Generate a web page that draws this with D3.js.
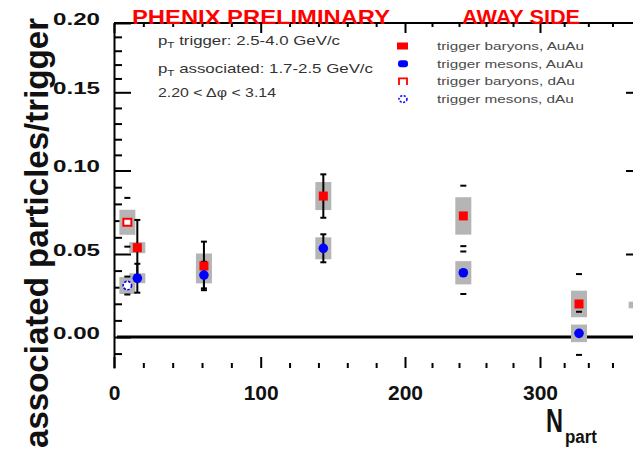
<!DOCTYPE html>
<html><head><meta charset="utf-8">
<script src="https://cdn.jsdelivr.net/npm/d3@7"></script>
<style>
body{margin:0;background:#fff}
svg{display:block}
text{font-family:"Liberation Sans",Arial,Helvetica,sans-serif}
</style>
</head><body>
<svg id="c" width="633" height="450"></svg>
<script>
// ---------------- data ----------------
const npartAuAu      = [15.9, 61.3, 143.4, 243.2, 332.3];
const baryonAuAu     = [0.0538, 0.0428, 0.0847, 0.0728, 0.0199];
const baryonAuAuStat = [0.0166, 0.0146, 0.0130, 0.0181, 0.0180];
const baryonAuAuSys  = [0.0033, 0.0075, 0.0084, 0.0112, 0.0080];
const mesonAuAu      = [0.0354, 0.0373, 0.0534, 0.0387, 0.0022];
const mesonAuAuStat  = [0.0087, 0.0080, 0.0084, 0.0128, 0.0130];
const mesonAuAuSys   = [0.0030, 0.0050, 0.0066, 0.0070, 0.0053];
const npartDAu       = [9.1];
const baryonDAu      = [0.0690];
const baryonDAuStat  = [0.0146];
const baryonDAuSys   = [0.0075];
const mesonDAu       = [0.0310];
const mesonDAuStat   = [0.0054];
const mesonDAuSys    = [0.0051];
// partially visible systematic box at the right edge
const npartEdge      = [380];
const valueEdge      = [0.0193];
const sysEdge        = [0.0020];

const xTickValues  = [0, 100, 200, 300];
const xMinorValues = d3.range(20, 377, 20).filter(v => v % 100 !== 0);
const yTickValues  = [0, 0.05, 0.10, 0.15, 0.20];
const yTickLabels  = ["0.00", "0.05", "0.10", "0.15", "0.20"];
const yMinorValues = d3.range(-0.01, 0.195, 0.01).map(v => +v.toFixed(2)).filter(v => Math.round(v*100) % 5 !== 0);
const legendLabels = ["trigger baryons, AuAu", "trigger mesons, AuAu", "trigger baryons, dAu", "trigger mesons, dAu"];
const titleLeft  = "PHENIX PRELIMINARY";
const titleRight = "AWAY SIDE";
const yTitle = "associated particles/trigger";

// style: AuAu stat bars drawn as connected lines (true) or only end caps (false)
const connectedAuAu = [true, true, true, false, false];

// ---------------- scales ----------------
const svg = d3.select("#c");
const x = d3.scaleLinear().domain([0, 100, 200, 300, 377]).range([114, 260.7, 405, 540, 633]);
const y = d3.scaleLinear().domain([-0.0187, 0, 0.05, 0.10, 0.15, 0.20]).range([368, 337, 254, 170.5, 92.3, 23]);

const RED = "#ff0000", BLUE = "#0000ff", GREY = "#b5b5b5";

// ---------------- axes ----------------
const gb = svg.append("g").attr("transform", `translate(0,${y(-0.0187)})`)
  .call(d3.axisBottom(x).tickValues(xTickValues).tickSize(-11).tickSizeOuter(0).tickPadding(17).tickFormat(d3.format("d")));
gb.select(".domain").remove();
gb.selectAll("line").attr("stroke-width", 2);
gb.selectAll("text").attr("font-size", 21).attr("font-weight", "bold").attr("fill", "#111");
const gbm = svg.append("g").attr("transform", `translate(0,${y(-0.0187)})`)
  .call(d3.axisBottom(x).tickValues(xMinorValues).tickSize(-5).tickFormat(""));
gbm.select(".domain").remove();
gbm.selectAll("line").attr("stroke-width", 2);

const gt = svg.append("g").attr("transform", `translate(0,${y(0.20)})`)
  .call(d3.axisTop(x).tickValues(xTickValues).tickSize(-10).tickSizeOuter(0).tickFormat(""));
gt.select(".domain").remove();
gt.selectAll("line").attr("stroke-width", 2);
const gtm = svg.append("g").attr("transform", `translate(0,${y(0.20)})`)
  .call(d3.axisTop(x).tickValues(xMinorValues).tickSize(-4).tickFormat(""));
gtm.select(".domain").remove();
gtm.selectAll("line").attr("stroke-width", 2);
svg.append("line").attr("x1", x(0)).attr("x2", 633).attr("y1", y(0.20)).attr("y2", y(0.20))
  .attr("stroke", "#000").attr("stroke-width", 2);

const gl = svg.append("g").attr("transform", `translate(${x(0)},0)`)
  .call(d3.axisLeft(y).tickValues(yTickValues).tickSize(-17).tickSizeOuter(0).tickPadding(14)
    .tickFormat((d, i) => yTickLabels[i]));
gl.select(".domain").attr("stroke-width", 2);
gl.selectAll("line").attr("stroke-width", 2);
gl.selectAll("text").attr("font-size", 17).attr("font-weight", "bold").attr("fill", "#111")
  .attr("y", -4).attr("textLength", 47).attr("lengthAdjust", "spacingAndGlyphs");
const glm = svg.append("g").attr("transform", `translate(${x(0)},0)`)
  .call(d3.axisLeft(y).tickValues(yMinorValues).tickSize(-8).tickFormat(""));
glm.select(".domain").remove();
glm.selectAll("line").attr("stroke-width", 2);

const gr = svg.append("g").attr("transform", `translate(633,0)`)
  .call(d3.axisRight(y).tickValues([0.05, 0.10, 0.15]).tickSize(-7).tickFormat(""));
gr.select(".domain").remove();
gr.selectAll("line").attr("stroke-width", 2);

svg.append("line").attr("x1", 117).attr("x2", 633).attr("y1", y(0)).attr("y2", y(0))
  .attr("stroke", "#000").attr("stroke-width", 3);

// ---------------- marks ----------------
function rows(nx, v, st, sy) { return nx.map((n, i) => ({n, v: v[i], st: st ? st[i] : 0, sy: sy[i], i})); }
const bA = rows(npartAuAu, baryonAuAu, baryonAuAuStat, baryonAuAuSys);
const mA = rows(npartAuAu, mesonAuAu, mesonAuAuStat, mesonAuAuSys);
const bD = rows(npartDAu, baryonDAu, baryonDAuStat, baryonDAuSys);
const mD = rows(npartDAu, mesonDAu, mesonDAuStat, mesonDAuSys);
const eD = rows(npartEdge, valueEdge, null, sysEdge);

const boxW = 16;
const gBox = svg.append("g");
[eD, bD, mD, bA, mA].forEach(arr => {
  gBox.selectAll(null).data(arr).enter().append("rect")
    .attr("x", d => x(d.n) - boxW / 2).attr("width", boxW)
    .attr("y", d => y(d.v + d.sy)).attr("height", d => y(d.v - d.sy) - y(d.v + d.sy))
    .attr("fill", GREY);
});

const gErr = svg.append("g").attr("stroke", "#000").attr("stroke-width", 2);
function errBars(arr, connected) {
  arr.forEach(d => {
    const cx = x(d.n), y1 = y(d.v + d.st), y2 = y(d.v - d.st);
    if (connected(d)) {
      gErr.append("line").attr("x1", cx).attr("x2", cx).attr("y1", y1).attr("y2", y2);
    }
    [y1, y2].forEach(yy => gErr.append("line").attr("x1", cx - 3).attr("x2", cx + 3).attr("y1", yy).attr("y2", yy));
  });
}
errBars(bA, d => connectedAuAu[d.i]);
errBars(mA, d => connectedAuAu[d.i]);
errBars(bD, () => false);
errBars(mD, () => false);

const gM = svg.append("g");
gM.selectAll(null).data(bA).enter().append("rect")
  .attr("x", d => x(d.n) - 4.5).attr("y", d => y(d.v) - 4.5).attr("width", 9).attr("height", 9).attr("fill", RED);
gM.selectAll(null).data(mA).enter().append("circle")
  .attr("cx", d => x(d.n)).attr("cy", d => y(d.v)).attr("r", 4.8).attr("fill", BLUE);
gM.selectAll(null).data(bD).enter().append("rect")
  .attr("x", d => x(d.n) - 4).attr("y", d => y(d.v) - 3.5).attr("width", 8).attr("height", 7)
  .attr("fill", "#fff").attr("stroke", RED).attr("stroke-width", 2);
gM.selectAll(null).data(mD).enter().append("circle")
  .attr("cx", d => x(d.n)).attr("cy", d => y(d.v)).attr("r", 4.2)
  .attr("fill", "#fff").attr("stroke", BLUE).attr("stroke-width", 1.6).attr("stroke-dasharray", "2.5,1.5");

// ---------------- legend ----------------
const lg = svg.append("g");
const legY = i => 46 + i * 17.7;
lg.append("rect").attr("x", 397).attr("y", legY(0) - 3.5).attr("width", 11).attr("height", 7).attr("fill", RED);
lg.append("rect").attr("x", 398).attr("y", legY(1) - 3.5).attr("width", 10).attr("height", 7).attr("rx", 3).attr("fill", BLUE);
lg.append("path").attr("d", `M399,${legY(2) + 3.5}V${legY(2) - 3}H407V${legY(2) + 3.5}`)
  .attr("fill", "none").attr("stroke", RED).attr("stroke-width", 1.8);
lg.append("ellipse").attr("cx", 403).attr("cy", legY(3)).attr("rx", 4).attr("ry", 3.3)
  .attr("fill", "none").attr("stroke", BLUE).attr("stroke-width", 1.5).attr("stroke-dasharray", "2,1.5");
lg.selectAll(null).data(legendLabels).enter().append("text")
  .attr("x", 437).attr("y", (d, i) => legY(i) + 4).attr("font-size", 11).attr("fill", "#4a4a4a")
  .text(d => d)
  .each(function () {
    const w = this.getComputedTextLength();
    d3.select(this).attr("textLength", w * 1.39).attr("lengthAdjust", "spacingAndGlyphs");
  });

// ---------------- annotations ----------------
function fit(sel, w) { return sel.attr("textLength", w).attr("lengthAdjust", "spacingAndGlyphs"); }
const ann = svg.append("g").attr("fill", "#333").attr("font-size", 13);
const t1 = ann.append("text").attr("x", 158).attr("y", 44.5);
t1.append("tspan").text("p");
t1.append("tspan").attr("font-size", 9).attr("dy", 3).text("T");
t1.append("tspan").attr("dy", -3).text(" trigger: 2.5-4.0 GeV/c");
fit(t1, 182);
const t2 = ann.append("text").attr("x", 158).attr("y", 72.5);
t2.append("tspan").text("p");
t2.append("tspan").attr("font-size", 9).attr("dy", 3).text("T");
t2.append("tspan").attr("dy", -3).text(" associated: 1.7-2.5 GeV/c");
fit(t2, 215);
fit(ann.append("text").attr("x", 158).attr("y", 97).text("2.20 < Δφ < 3.14"), 118);

fit(svg.append("text").attr("x", 132).attr("y", 23.5).attr("font-size", 20).attr("font-weight", "bold")
  .attr("fill", RED).text(titleLeft), 258);
fit(svg.append("text").attr("x", 462).attr("y", 24).attr("font-size", 20).attr("font-weight", "bold")
  .attr("fill", RED).text(titleRight), 118);

fit(svg.append("text").attr("transform", "translate(48,233) rotate(-90)").attr("text-anchor", "middle")
  .attr("font-size", 34).attr("font-weight", "bold").attr("fill", "#111").text(yTitle), 430);
fit(svg.append("text").attr("x", 546).attr("y", 432).attr("font-size", 34).attr("font-weight", "bold")
  .attr("fill", "#111").text("N"), 17);
fit(svg.append("text").attr("x", 565).attr("y", 443).attr("font-size", 18).attr("font-weight", "bold")
  .attr("fill", "#111").text("part"), 32);
</script>
</body></html>
